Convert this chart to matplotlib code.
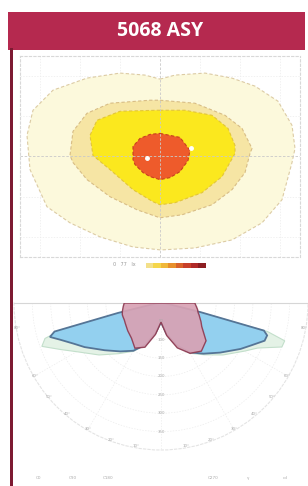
import numpy as np
import matplotlib
matplotlib.use("Agg")
import matplotlib.pyplot as plt
from matplotlib.patches import Rectangle
from matplotlib.colors import ListedColormap

W, H = 308, 486

# ---------------- isolux outlines (m) ----------------
outer_x = [0.0, 0.75, 2.25, 3.6, 4.75, 5.9, 6.6, 6.75, 6.6, 6.1, 5.1, 3.6, 1.75, 0.05,
           -1.35, -3.0, -4.5, -5.65, -6.5, -6.65, -6.35, -5.35, -3.65, -2.0, -0.75]
outer_y = [3.85, 4.05, 4.15, 3.9, 3.5, 2.75, 1.55, 0.4, -0.3, -2.15, -3.3, -4.15, -4.55, -4.65,
           -4.5, -4.0, -3.3, -2.5, -0.65, 1.05, 2.3, 3.3, 3.9, 4.15, 4.05]

mid_x = [0.0, 1.75, 3.25, 4.1, 4.6, 4.5, 4.25, 3.6, 2.6, 1.1, 0.0,
         -1.15, -2.5, -3.65, -4.35, -4.5, -4.35, -3.65, -2.5, -0.5]
mid_y = [2.8, 2.65, 2.05, 1.4, 0.4, 0.15, -0.8, -1.65, -2.4, -2.9, -3.05,
         -2.65, -2.0, -1.15, -0.3, 0.05, 1.25, 2.15, 2.65, 2.8]

yel_x = [0.0, 1.25, 2.6, 3.4, 3.75, 3.75, 3.1, 2.1, 0.75, 0.0,
         -0.35, -1.35, -2.5, -3.35, -3.5, -3.15, -2.0, -0.15]
yel_y = [2.3, 2.3, 2.05, 1.4, 0.55, 0.15, -1.0, -1.8, -2.3, -2.4,
         -2.25, -1.65, -0.65, 0.05, 1.05, 1.8, 2.25, 2.3]

core_x = [0.0, 0.5, 1.0, 1.5, 1.4, 1.0, 0.5, 0.0, -0.5, -0.85, -1.25, -1.35, -1.35, -1.0, -0.5]
core_y = [1.15, 1.05, 0.95, 0.3, -0.2, -0.75, -1.05, -1.15, -1.0, -0.8, -0.4, -0.15, 0.5, 0.9, 1.1]

legend_levels = [1, 2, 3, 4, 5, 6, 7, 8]
legend_colors = ["#f3e08a", "#f5d64a", "#f0b83a", "#e8902c", "#d9622a", "#c8402a", "#b02a28", "#8c1e22"]

# ---------------- polar intensity (cd/klm) ----------------
gamma = [-90, -85, -80, -77, -75, -73, -70, -65, -60, -50, -40, -30, -20, -10, 0,
         10, 20, 30, 40, 50, 60, 65, 70, 73, 75, 77, 80, 85, 90]
plane_green = [0, 10, 25, 90, 280, 330, 345, 300, 265, 220, 180, 152, 121, 83, 52,
               86, 124, 158, 184, 220, 262, 290, 350, 352, 300, 100, 25, 10, 0]
plane_blue = [0, 14, 30, 120, 300, 316, 292, 262, 240, 200, 172, 150, 120, 82, 52,
              85, 122, 155, 180, 210, 250, 272, 300, 302, 290, 110, 30, 12, 0]
plane_pink = [100, 103, 106, 108, 109, 110, 110, 110, 112, 118, 125, 142, 128, 87, 52,
              90, 130, 158, 171, 160, 128, 120, 112, 108, 105, 103, 101, 96, 92]
r_ticks = [50, 100, 150, 200, 250, 300, 350]
angle_ticks = [-80, -60, -50, -40, -30, -20, -10, 10, 20, 30, 40, 50, 60, 80]
r_max = 400

fig = plt.figure(figsize=(W / 100, H / 100), dpi=100)
fig.patch.set_facecolor("white")

# header bar and left border
fig.patches.append(Rectangle((8 / W, 1 - 50 / H), 297 / W, 38 / H, transform=fig.transFigure,
                             facecolor="#b5294f", edgecolor="none", zorder=0))
fig.patches.append(Rectangle((10 / W, 0), 3 / W, 1 - 48 / H, transform=fig.transFigure,
                             facecolor="#7d1a32", edgecolor="none", zorder=0))
fig.text(160 / W, 1 - 31 / H, "5068 ASY", color="white", fontsize=14, fontweight="bold",
         family="Open Sans", ha="center", va="center")

# ---------------- isolux panel ----------------
ax = fig.add_axes([20 / W, 1 - 257 / H, 280 / W, 201 / H])
ax.set_xlim(-7, 7)
ax.set_ylim(-5, 5)
for s in ax.spines.values():
    s.set_color("#d8d8d8")
    s.set_linestyle((0, (2, 2)))
    s.set_linewidth(0.8)
ax.set_xticks([])
ax.set_yticks([])
for gx in [-6, -4, -2, 2, 4, 6]:
    ax.axvline(gx, color="#ececec", lw=0.5, ls=(0, (2, 2)), zorder=0)
for gy in [-4, -2, 2, 4]:
    ax.axhline(gy, color="#ececec", lw=0.5, ls=(0, (2, 2)), zorder=0)

layers = [(outer_x, outer_y, "#fcf9dc", "#dccba4"),
          (mid_x, mid_y, "#f6e5a4", "#d8bd86"),
          (yel_x, yel_y, "#fbe81e", "#e2c53a"),
          (core_x, core_y, "#ee5b2b", "#c8401e")]
for i, (xs, ys, fc, ec) in enumerate(layers):
    ax.fill(xs, ys, facecolor=fc, edgecolor=ec, lw=0.8, ls=(0, (3, 2)), zorder=1 + i)
ax.axvline(0, color="#c9c9c9", lw=0.6, ls=(0, (3, 2)), zorder=6)
ax.axhline(0, color="#c9c9c9", lw=0.6, ls=(0, (3, 2)), zorder=6)
ax.plot([-0.65, 1.55], [-0.05, 0.4], "o", color="white", ms=2.5, zorder=7)

# legend strip
fig.text(113 / W, 1 - 265 / H, "0   77   lx", fontsize=3.5, color="#999999", va="center")
lax = fig.add_axes([146 / W, 1 - 268 / H, 60 / W, 5 / H])
lax.imshow([legend_levels], cmap=ListedColormap(legend_colors), aspect="auto")
lax.set_axis_off()

# ---------------- polar panel ----------------
# the half-disc is drawn at half the box size, so the box is doubled around its centre
pax = fig.add_axes([-133 / W, 1 - 523.5 / H, 588 / W, 294 / H], projection="polar")
pax.set_theta_zero_location("S")
pax.set_thetamin(-90)
pax.set_thetamax(90)
pax.set_rlim(0, r_max)
th = np.radians(gamma)
pax.fill(th, plane_green, facecolor="#e4f2e6", edgecolor="#c3dfcb", lw=0.8, zorder=2)
pax.fill(th, plane_blue, facecolor="#93d0ef", edgecolor="#557596", lw=1.3, zorder=3)
pax.fill(th, plane_pink, facecolor="#d8a2b4", edgecolor="#8e3b52", lw=1.0, alpha=0.92, zorder=4)
pax.set_rticks(r_ticks)
pax.set_yticklabels([])
pax.set_thetagrids(range(-90, 91, 30), labels=[""] * 7)
pax.grid(color="#ececec", lw=0.5, ls=(0, (2, 2)))
pax.spines["polar"].set_color("#e4e4e4")
pax.spines["polar"].set_linestyle((0, (2, 2)))
pax.spines["start"].set_color("#d6d6d6")
pax.spines["end"].set_color("#d6d6d6")
pax.spines["inner"].set_visible(False)
pax.set_facecolor("none")
for rv in r_ticks:
    pax.text(0, rv, str(rv), fontsize=2.8, color="#a8a8a8", ha="center", va="center", zorder=5)
for a in angle_ticks:
    pax.text(np.radians(a), r_max * 0.99, f"{abs(a)}°", fontsize=2.8, color="#a8a8a8",
             ha="center", va="center", zorder=5)

for xp, txt in zip([38, 73, 108, 213, 248, 285], ["C0", "C90", "C180", "C270", "γ", "cd"]):
    fig.text(xp / W, 1 - 478 / H, txt, fontsize=3, color="#aaaaaa", ha="center", va="center")

fig.savefig("out.png", dpi=100)
